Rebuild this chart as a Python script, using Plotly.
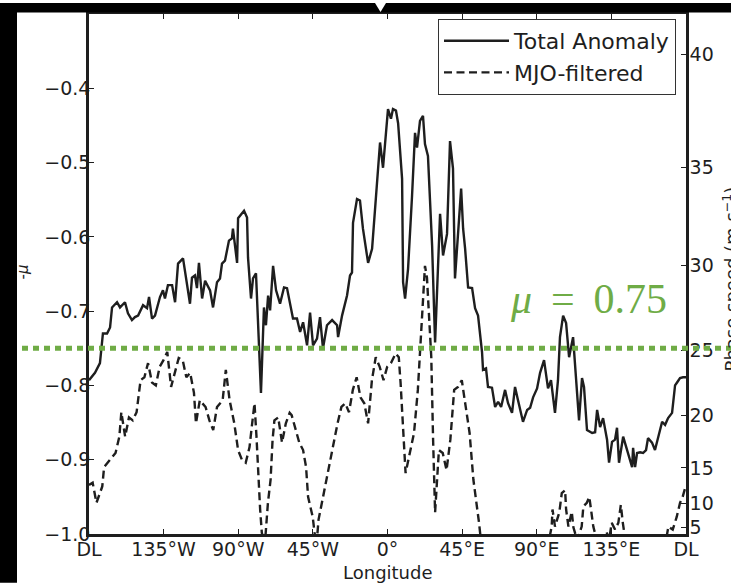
import plotly.graph_objects as go

# ---------------- data ----------------
LON_TOTAL = [
    180, 183.6, 186.6, 188.4, 190.9, 192.7, 193.9, 196.9, 198.7, 201.7,
    203.5, 205.9, 207.7, 209.6, 212.6, 215.0, 216.2, 218.0, 219.8, 222.8,
    224.6, 225.8, 227.6, 230.1, 231.9, 233.7, 236.7, 239.1, 240.9, 242.1,
    243.9, 245.1, 246.3, 248.2, 250.0, 253.0, 254.8, 257.2, 259.0, 260.2,
    262.0, 264.4, 266.2, 266.8, 269.3, 269.9, 272.3, 273.5, 275.3, 275.9,
    277.7, 278.9, 280.7, 281.9, 283.7, 285.5, 286.7, 288.0, 289.2, 291.0,
    292.8, 295.2, 297.6, 299.4, 301.2, 303.0, 305.4, 307.3, 309.1, 311.5,
    313.3, 315.1, 317.5, 319.3, 321.1, 323.5, 326.6, 329.6, 330.2, 332.6,
    335.6, 337.4, 338.6, 339.2, 341.6, 343.4, 345.2, 348.3, 350.7, 352.5,
    354.3, 355.5, 357.3, 359.7, 360.3, 362.1, 363.3, 365.1, 366.4, 368.8,
    369.4, 370.6, 372.4, 374.8, 376.6, 377.8, 379.6, 381.4, 382.6, 384.4,
    386.9, 388.7, 390.5, 391.7, 393.5, 395.9, 397.7, 399.5, 400.7, 402.5,
    404.4, 405.6, 406.8, 408.6, 411.0, 412.8, 414.6, 417.0, 417.6, 419.4,
    420.6, 423.0, 424.9, 426.7, 428.5, 430.9, 432.7, 435.1, 436.9, 438.7,
    441.7, 444.2, 446.0, 447.8, 450.2, 452.0, 454.4, 456.8, 458.6, 461.0,
    462.8, 464.0, 465.9, 467.7, 469.5, 471.9, 473.1, 475.5, 477.3, 478.5,
    480.3, 483.4, 485.2, 486.4, 488.2, 490.0, 492.4, 493.6, 495.4, 497.2,
    498.4, 499.6, 502.1, 503.9, 505.7, 507.5, 508.1, 509.3, 510.5, 512.3,
    514.1, 515.9, 517.1, 519.5, 521.3, 523.2, 525.6, 527.4, 529.2, 531.6,
    533.4, 534.6, 536.4, 538.2, 540.0,
]
MU_TOTAL = [
    -0.793, -0.783, -0.770, -0.730, -0.730, -0.722, -0.695, -0.688, -0.695, -0.688,
    -0.703, -0.712, -0.708, -0.706, -0.692, -0.696, -0.681, -0.710, -0.706, -0.681,
    -0.672, -0.683, -0.665, -0.665, -0.688, -0.636, -0.629, -0.663, -0.690, -0.655,
    -0.652, -0.669, -0.635, -0.683, -0.659, -0.672, -0.695, -0.661, -0.656, -0.636,
    -0.632, -0.605, -0.602, -0.589, -0.635, -0.575, -0.569, -0.565, -0.574, -0.628,
    -0.683, -0.656, -0.649, -0.712, -0.810, -0.695, -0.719, -0.679, -0.699, -0.639,
    -0.672, -0.690, -0.668, -0.669, -0.692, -0.710, -0.710, -0.728, -0.715, -0.746,
    -0.702, -0.746, -0.737, -0.708, -0.750, -0.719, -0.712, -0.719, -0.735, -0.706,
    -0.679, -0.652, -0.648, -0.581, -0.549, -0.551, -0.589, -0.635, -0.616, -0.567,
    -0.508, -0.473, -0.507, -0.451, -0.428, -0.441, -0.428, -0.430, -0.447, -0.522,
    -0.661, -0.683, -0.643, -0.545, -0.460, -0.480, -0.444, -0.437, -0.475, -0.491,
    -0.612, -0.742, -0.625, -0.569, -0.625, -0.596, -0.471, -0.508, -0.656, -0.589,
    -0.535, -0.589, -0.616, -0.668, -0.669, -0.696, -0.706, -0.755, -0.779, -0.777,
    -0.802, -0.803, -0.829, -0.822, -0.829, -0.806, -0.824, -0.837, -0.802, -0.820,
    -0.849, -0.833, -0.830, -0.816, -0.804, -0.783, -0.766, -0.804, -0.793, -0.837,
    -0.793, -0.735, -0.706, -0.716, -0.762, -0.735, -0.775, -0.847, -0.790, -0.802,
    -0.860, -0.864, -0.863, -0.833, -0.856, -0.844, -0.873, -0.904, -0.876, -0.873,
    -0.857, -0.904, -0.869, -0.883, -0.896, -0.910, -0.884, -0.910, -0.891, -0.890,
    -0.891, -0.887, -0.871, -0.877, -0.887, -0.869, -0.849, -0.853, -0.844, -0.837,
    -0.800, -0.796, -0.790, -0.789, -0.789,
]

LON_MJO = [
    180, 182.2, 184.5, 188.0, 189.1, 192.6, 196.0, 198.3, 199.5, 201.8,
    204.1, 206.4, 208.7, 211.1, 213.4, 215.6, 218.0, 220.3, 222.6, 224.9,
    227.2, 229.5, 231.8, 234.1, 236.5, 238.7, 241.0, 243.3, 244.5, 246.8,
    250.3, 252.6, 254.9, 257.2, 260.6, 262.5, 264.8, 267.6, 269.9, 272.2,
    274.5, 276.8, 278.4, 279.8, 281.0, 281.9, 283.2, 284.2, 286.0, 287.9,
    289.5, 290.7, 291.8, 294.1, 296.4, 298.7, 301.0, 302.2, 304.5, 306.8,
    309.1, 310.9, 312.1, 314.9, 316.0, 317.2, 318.4, 321.8, 325.2, 327.6,
    329.9, 332.2, 334.5, 336.8, 339.1, 341.4, 343.7, 346.0, 348.3, 350.6,
    352.9, 355.3, 357.6, 359.8, 362.1, 364.9, 366.8, 367.9, 369.6, 370.9,
    372.6, 376.0, 378.3, 380.2, 382.6, 383.8, 386.4, 387.5, 388.7, 391.0,
    393.3, 395.6, 397.9, 400.2, 402.5, 404.8, 407.1, 409.5, 411.8, 414.1,
    415.2, 418.8, 430.0, 445.0, 456.8, 459.0, 459.5, 461.0, 463.6, 465.1,
    467.1, 467.7, 469.1, 471.1, 472.1, 474.3, 477.1, 478.1, 480.2, 481.7,
    482.8, 484.1, 487.0, 490.6, 492.2, 493.6, 495.2, 497.2, 499.2, 500.7,
    501.9, 502.7, 506.3, 518.3, 527.4, 529.4, 532.0, 534.4, 536.4, 538.0,
    540.0,
]
MU_MJO = [
    -0.934, -0.931, -0.958, -0.936, -0.910, -0.900, -0.891, -0.869, -0.836, -0.869,
    -0.843, -0.847, -0.836, -0.793, -0.789, -0.770, -0.796, -0.800, -0.775, -0.766,
    -0.755, -0.802, -0.783, -0.763, -0.766, -0.789, -0.783, -0.810, -0.851, -0.820,
    -0.829, -0.847, -0.860, -0.829, -0.820, -0.779, -0.820, -0.851, -0.887, -0.900,
    -0.904, -0.883, -0.851, -0.824, -0.869, -0.918, -0.967, -0.998, -1.015, -0.958,
    -0.927, -0.873, -0.847, -0.843, -0.877, -0.851, -0.837, -0.840, -0.860, -0.877,
    -0.887, -0.910, -0.950, -0.977, -0.998, -1.015, -0.981, -0.941, -0.904, -0.873,
    -0.851, -0.829, -0.824, -0.836, -0.806, -0.789, -0.816, -0.824, -0.851, -0.793,
    -0.762, -0.775, -0.793, -0.775, -0.770, -0.757, -0.762, -0.797, -0.860, -0.918,
    -0.900, -0.864, -0.806, -0.739, -0.639, -0.655, -0.762, -0.873, -0.971, -0.887,
    -0.891, -0.914, -0.873, -0.806, -0.802, -0.793, -0.829, -0.864, -0.927, -0.963,
    -0.985, -1.060, -1.120, -1.080, -1.015, -0.990, -0.967, -0.990, -0.971, -0.945,
    -0.941, -0.967, -0.990, -0.970, -0.991, -1.008, -0.990, -0.963, -0.958, -0.950,
    -0.967, -0.990, -1.015, -1.008, -0.998, -1.008, -0.985, -0.994, -0.985, -0.961,
    -0.985, -0.997, -1.035, -1.050, -1.015, -0.990, -0.994, -0.977, -0.958, -0.950,
    -0.934,
]

SERIES_NAMES = ["Total Anomaly", "MJO-filtered"]

X_TICK_VALS = [180, 225, 270, 315, 360, 405, 450, 495, 540]
X_TICK_TEXT = ["DL", "135°W", "90°W", "45°W", "0°", "45°E", "90°E", "135°E", "DL"]

Y_TICK_VALS = [-1.0, -0.9, -0.8, -0.7, -0.6, -0.5, -0.4]
Y_TICK_TEXT = ["−1.0", "−0.9", "−0.8", "−0.7", "−0.6", "−0.5", "−0.4"]

# phase speed (m/s) labels and the -mu value each one sits at
SPEED_TICK_TEXT = ["40", "35", "30", "25", "20", "15", "10", "5"]
SPEED_TICK_MU = [-0.354, -0.507, -0.639, -0.753, -0.840, -0.911, -0.959, -0.991]

MU_THRESHOLD = -0.75
THRESHOLD_LABEL = "<i>μ</i>\u00a0\u2009=\u00a0\u20090.75"

X_RANGE = [180, 540]
Y_RANGE = [-1.0, -0.3]

# ---------------- layout helpers ----------------
W, H = 731, 583
ML, MR, MT, MB = 89, 45, 11, 49
PW, PH = W - ML - MR, H - MT - MB


def px_x(p):
    return (p - ML) / PW


def px_y(p):
    return (H - MB - p) / PH


INK = "#1e1e1e"
GREEN = "#6fac46"
FONT = "DejaVu Sans"

fig = go.Figure()
fig.add_trace(go.Scatter(
    x=LON_TOTAL, y=MU_TOTAL, mode="lines", name=SERIES_NAMES[0],
    line=dict(color=INK, width=2.4),
))
fig.add_trace(go.Scatter(
    x=LON_MJO, y=MU_MJO, mode="lines", name=SERIES_NAMES[1],
    line=dict(color=INK, width=2.4, dash="8px,4.5px"),
))
# invisible trace to carry the right-hand axis
fig.add_trace(go.Scatter(
    x=[X_RANGE[0]], y=[Y_RANGE[0]], yaxis="y2", mode="markers",
    marker=dict(opacity=0), showlegend=False, hoverinfo="skip",
))

thr_y = (MU_THRESHOLD - Y_RANGE[0]) / (Y_RANGE[1] - Y_RANGE[0])

shapes = [
    dict(type="line", xref="paper", yref="paper", x0=px_x(0), x1=px_x(W),
         y0=thr_y, y1=thr_y, line=dict(color=GREEN, width=5, dash="6px,5px"),
         layer="above"),
    dict(type="rect", xref="paper", yref="paper", x0=px_x(0), x1=px_x(17),
         y0=px_y(H), y1=px_y(0), fillcolor="black", line=dict(width=0), layer="above"),
    dict(type="rect", xref="paper", yref="paper", x0=px_x(0), x1=px_x(W),
         y0=px_y(9.5), y1=px_y(0), fillcolor="black", line=dict(width=0), layer="above"),
    dict(type="path", xref="paper", yref="paper",
         path=f"M {px_x(375)},{px_y(0)} L {px_x(386)},{px_y(0)} L {px_x(380.5)},{px_y(9)} Z",
         fillcolor="white", line=dict(width=0), layer="above"),
]

annotations = [
    dict(text=THRESHOLD_LABEL, xref="paper", yref="paper", x=px_x(588), y=px_y(298),
         showarrow=False, font=dict(family="Liberation Serif", size=42, color=GREEN),
         xanchor="center", yanchor="middle"),
    dict(text="Longitude", xref="paper", yref="paper", x=px_x(388), y=px_y(573),
         showarrow=False, font=dict(family=FONT, size=18, color=INK),
         xanchor="center", yanchor="middle"),
    dict(text="-<i>μ</i>", xref="paper", yref="paper", x=px_x(23), y=px_y(271),
         showarrow=False, textangle=-90, font=dict(family=FONT, size=15, color=INK),
         xanchor="center", yanchor="middle"),
    dict(text="Phase speed (m s<sup>−1</sup>)", xref="paper", yref="paper",
         x=px_x(731), y=px_y(278), showarrow=False, textangle=-90,
         font=dict(family=FONT, size=18, color=INK), xanchor="center", yanchor="middle"),
]

axis_common = dict(
    showgrid=False, zeroline=False, ticks="inside", ticklen=5, tickwidth=1.2,
    tickcolor=INK, showline=True, linewidth=2.5, linecolor=INK,
    tickfont=dict(family=FONT, size=19, color=INK),
)

fig.update_layout(
    width=W, height=H,
    margin=dict(l=ML, r=MR, t=MT, b=MB, pad=0),
    paper_bgcolor="white", plot_bgcolor="white",
    showlegend=True,
    legend=dict(
        x=px_x(676), y=px_y(16), xanchor="right", yanchor="top",
        bgcolor="white", bordercolor="#333", borderwidth=1,
        font=dict(family=FONT, size=22, color=INK),
        tracegroupgap=0, itemwidth=65,
    ),
    xaxis=dict(range=X_RANGE, tickvals=X_TICK_VALS, ticktext=X_TICK_TEXT,
               mirror="ticks", ticklabelstandoff=-4, **axis_common),
    yaxis=dict(range=Y_RANGE, tickvals=Y_TICK_VALS, ticktext=Y_TICK_TEXT,
               mirror=True, ticklabelstandoff=-8, **axis_common),
    yaxis2=dict(range=Y_RANGE, tickvals=SPEED_TICK_MU, ticktext=SPEED_TICK_TEXT,
                overlaying="y", side="right", anchor="x", ticklabelstandoff=-3,
                **axis_common),
    shapes=shapes,
    annotations=annotations,
)

fig.write_html("out.html")
